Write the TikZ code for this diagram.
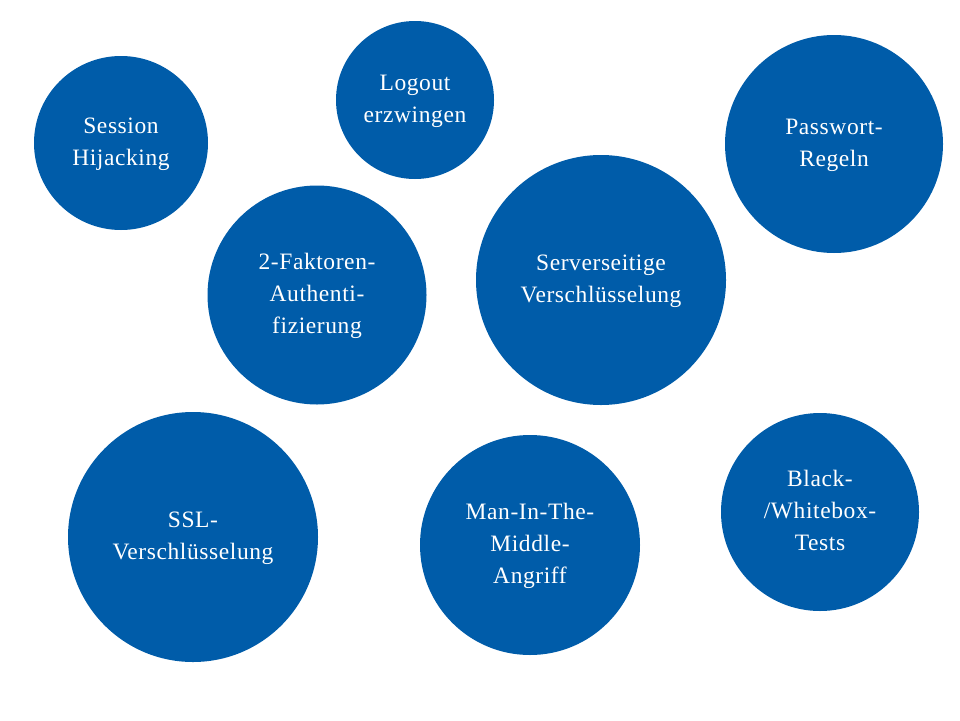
\documentclass[tikz,border=0pt]{standalone}
\usepackage{fontspec}
\setmainfont{Liberation Serif}[LetterSpace=2.5]
\definecolor{cblue}{HTML}{005CA9}
\newcommand\bubtext[1]{\raisebox{-4pt}{\begin{tabular}{@{}c@{}}#1\end{tabular}}}
\tikzset{
  bubble/.style={circle, fill=cblue, draw=none, text=white, align=center, inner sep=0pt,
    font=\fontsize{23.5}{32}\selectfont, minimum size=#1},
}
\begin{document}
\begin{tikzpicture}[x=1pt,y=-1pt]
\useasboundingbox (0,0) rectangle (960,720);
\node[bubble=174pt] (sess) at (121,143) {\bubtext{Session\\Hijacking}};
\node[bubble=158pt] (logout) at (415,100) {\bubtext{Logout\\erzwingen}};
\node[bubble=218pt] (pass) at (834,144) {\bubtext{Passwort-\\Regeln}};
\node[bubble=219pt] (twofa) at (317,295) {\bubtext{2-Faktoren-\\Authenti-\\fizierung}};
\node[bubble=250pt] (server) at (601,280) {\bubtext{Serverseitige\\Verschlüsselung}};
\node[bubble=250pt] (ssl) at (193,537) {\bubtext{SSL-\\Verschlüsselung}};
\node[bubble=220pt] (mitm) at (530,545) {\bubtext{Man-In-The-\\Middle-\\Angriff}};
\node[bubble=198pt] (black) at (820,512) {\bubtext{Black-\\/Whitebox-\\Tests}};
\end{tikzpicture}
\end{document}
